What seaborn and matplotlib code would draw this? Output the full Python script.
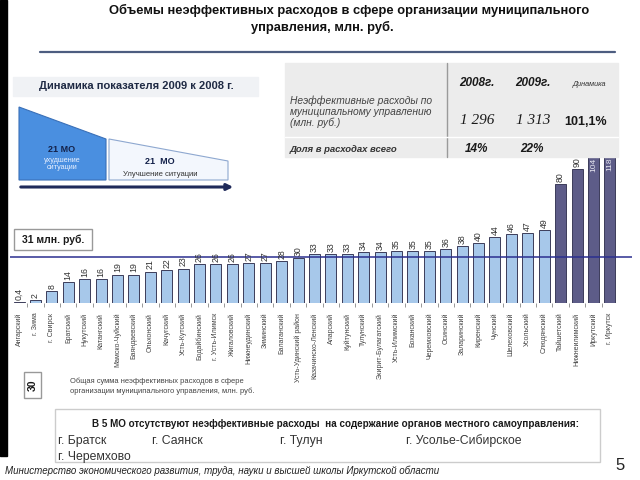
import numpy as np
import pandas as pd
import seaborn as sns
import matplotlib.pyplot as plt
from matplotlib.patches import Polygon, Rectangle

# municipalities and sums of ineffective spending, mln rub
names = ["Ангарский", "г. Зима", "г. Свирск", "Братский", "Нукутский", "Катангский",
         "Мамско-Чуйский", "Баяндаевский", "Ольхонский", "Качугский", "Усть-Кутский",
         "Бодайбинский", "г. Усть-Илимск", "Жигаловский", "Нижнеудинский", "Зиминский",
         "Балаганский", "Усть-Удинский район", "Казачинско-Ленский", "Аларский",
         "Куйтунский", "Тулунский", "Эхирит-Булагатский", "Усть-Илимский", "Боханский",
         "Черемховский", "Осинский", "Заларинский", "Киренский", "Чунский",
         "Шелеховский", "Усольский", "Слюдянский", "Тайшетский", "Нижнеилимский",
         "Иркутский", "г. Иркутск"]
values = [0.4, 2, 8, 14, 16, 16, 19, 19, 21, 22, 23, 26, 26, 26, 27, 27, 28, 30, 33, 33,
          33, 34, 34, 35, 35, 35, 36, 38, 40, 44, 46, 47, 49, 80, 90, 104, 118]
groups = ["base"] * 33 + ["top"] * 4
average = 31

years = ["2008г.", "2009г."]
spend = ["1 296", "1 313"]
share = ["14%", "22%"]
dynamics = "101,1%"

no_spend = ["г. Братск", "г. Саянск", "г. Тулун", "г. Усолье-Сибирское", "г. Черемхово"]

sns.set_style("white")
plt.rcParams['font.family'] = ['Liberation Sans', 'DejaVu Sans']

df = pd.DataFrame({"name": names, "value": values, "group": groups})

fig = plt.figure(figsize=(6.4, 4.8), dpi=100)
W, H = 640, 480

# bar chart: baseline at y=303 px, top under the table at y=157, 1.49 px per unit
ax = fig.add_axes([10 / W, 1 - 303 / H, 622 / W, 146 / H])
top = 146 / 1.49
sns.barplot(data=df, x="name", y="value", hue="group", dodge=False, legend=False,
            palette={"base": "#9CC8F5", "top": "#56558F"}, edgecolor="#3c3c5a",
            linewidth=0.7, width=0.67, ax=ax)
ax.set_xlim(-0.55, 37.35)
ax.set_ylim(0, top)
ax.axhline(average, color="#2b2f8f", lw=1.1)
for i, v in enumerate(values):
    lab = str(v).replace(".", ",") if v != int(v) else str(int(v))
    if v > top:
        # bars running under the table: label sits inside the bar top
        ax.text(i, top - 0.5, lab, rotation=90, ha="center", va="top", fontsize=6,
                color="#e6e6f0", clip_on=True)
    else:
        ax.text(i, v + 1.5, lab, rotation=90, ha="center", va="bottom", fontsize=6.3,
                color="#333333", clip_on=True)
ax.set_xticks(range(len(names)))
ax.set_xticklabels(names, rotation=90, fontsize=5, color="#444444")
ax.set_xticks(np.arange(len(names) - 1) + 0.5, minor=True)
ax.tick_params(axis="x", which="major", length=0, pad=7)
ax.tick_params(axis="x", which="minor", length=3, color="#888888", width=0.6, bottom=True)
ax.set_yticks([])
ax.set_xlabel("")
ax.set_ylabel("")
sns.despine(ax=ax, left=True, bottom=True)

# overlay in pixel coordinates for the slide decorations
ov = fig.add_axes([0, 0, 1, 1], zorder=2)
ov.set_xlim(0, W)
ov.set_ylim(H, 0)
ov.axis("off")
ov.patch.set_visible(False)

ov.add_patch(Rectangle((0, 0), 7, 456, color="black"))

ov.text(349, 10, "Объемы неэффективных расходов в сфере организации муниципального",
        ha="center", va="center", fontsize=9.3, fontweight="bold", color="#111111")
ov.text(322, 27, "управления, млн. руб.", ha="center", va="center", fontsize=9.3,
        fontweight="bold", color="#111111")
ov.plot([40, 615], [52, 52], color="#4d5d80", lw=1.6)

# left panel
ov.add_patch(Rectangle((13, 77), 245, 19, color="#f0f2f5"))
ov.text(136, 86, "Динамика показателя 2009 к 2008 г.", ha="center", va="center",
        fontsize=8, fontweight="bold", color="#1f2a44")
ov.add_patch(Polygon([(19, 107), (106, 139), (106, 180), (19, 180)], closed=True,
                     facecolor="#4a8fe0", edgecolor="#3a70b8", lw=0.8))
ov.text(62, 149, "21 МО", ha="center", va="center", fontsize=6.5, fontweight="bold",
        color="#14224a")
ov.text(62, 164, "ухудшение\nситуации", ha="center", va="center", fontsize=5.2,
        color="#e8f0ff", linespacing=1.1)
ov.add_patch(Polygon([(109, 139), (228, 161), (228, 180), (109, 180)], closed=True,
                     facecolor="#f3f7fd", edgecolor="#8ea8d0", lw=0.8))
ov.text(160, 162, "21  МО", ha="center", va="center", fontsize=6.5, fontweight="bold",
        color="#14224a")
ov.text(160, 174, "Улучшение ситуации", ha="center", va="center", fontsize=5.5,
        color="#333333")
ov.annotate("", xy=(236, 187), xytext=(18, 187),
            arrowprops=dict(arrowstyle="-|>", color="#1f2a5a", lw=2.2, mutation_scale=9))

ov.add_patch(Rectangle((14, 229), 78, 21, facecolor="white", edgecolor="#999999", lw=1))
ov.text(53, 240, "31 млн. руб.", ha="center", va="center", fontsize=7.5,
        fontweight="bold", color="#1a1a1a")

# summary table
ov.add_patch(Rectangle((285, 63), 333, 94, color="#ececec"))
ov.plot([447, 447], [63, 157], color="#9a9a9a", lw=1)
ov.plot([285, 618], [137, 137], color="white", lw=1)
ov.text(477, 83, years[0], ha="center", va="center", fontsize=8.5, style="italic",
        fontweight="bold", color="#1a1a1a")
ov.text(533, 83, years[1], ha="center", va="center", fontsize=8.5, style="italic",
        fontweight="bold", color="#1a1a1a")
ov.text(589, 84, "Динамика", ha="center", va="center", fontsize=5.2, style="italic",
        color="#333333")
ov.text(290, 112, "Неэффективные расходы по\nмуниципальному управлению\n(млн. руб.)",
        ha="left", va="center", fontsize=7.4, style="italic", color="#444444",
        linespacing=1.1)
ov.text(477, 121, spend[0], ha="center", va="center", fontsize=11, style="italic",
        family="Liberation Serif", color="#1a1a1a")
ov.text(533, 121, spend[1], ha="center", va="center", fontsize=11, style="italic",
        family="Liberation Serif", color="#1a1a1a")
ov.text(586, 122, dynamics, ha="center", va="center", fontsize=9, fontweight="bold",
        color="#1a1a1a")
ov.text(290, 149, "Доля в расходах всего", ha="left", va="center", fontsize=6.8,
        style="italic", fontweight="bold", color="#333333")
ov.text(477, 149, share[0], ha="center", va="center", fontsize=8.5, style="italic",
        fontweight="bold", color="#1a1a1a")
ov.text(532, 149, share[1], ha="center", va="center", fontsize=8.5, style="italic",
        fontweight="bold", color="#1a1a1a")

# legend note
ov.add_patch(Rectangle((24, 372), 17, 26, facecolor="white", edgecolor="#999999", lw=1))
ov.text(32.5, 385, "30", rotation=90, ha="center", va="center", fontsize=7.5,
        fontweight="bold", color="#1a1a1a")
ov.text(70, 386, "Общая сумма неэффективных расходов в сфере\n"
        "организации муниципального управления, млн. руб.",
        ha="left", va="center", fontsize=5.4, color="#444444", linespacing=1.4)

# bottom box
ov.add_patch(Rectangle((55, 409), 545, 53, facecolor="white", edgecolor="#cccccc", lw=1))
ov.text(336, 424, "В 5 МО отсутствуют неэффективные расходы  на содержание органов "
        "местного самоуправления:", ha="center", va="center", fontsize=7.15,
        fontweight="bold", color="#1a1a1a")
for x, y, c in zip([58, 152, 280, 406, 58], [441, 441, 441, 441, 457], no_spend):
    ov.text(x, y, c, ha="left", va="center", fontsize=8.8, color="#333333")

ov.text(5, 471, "Министерство экономического развития, труда, науки и высшей школы "
        "Иркутской области", ha="left", va="center", fontsize=7, style="italic",
        color="#222222")
ov.text(620, 465, "5", ha="center", va="center", fontsize=12, color="#222222")

fig.savefig("out.png", dpi=100)
